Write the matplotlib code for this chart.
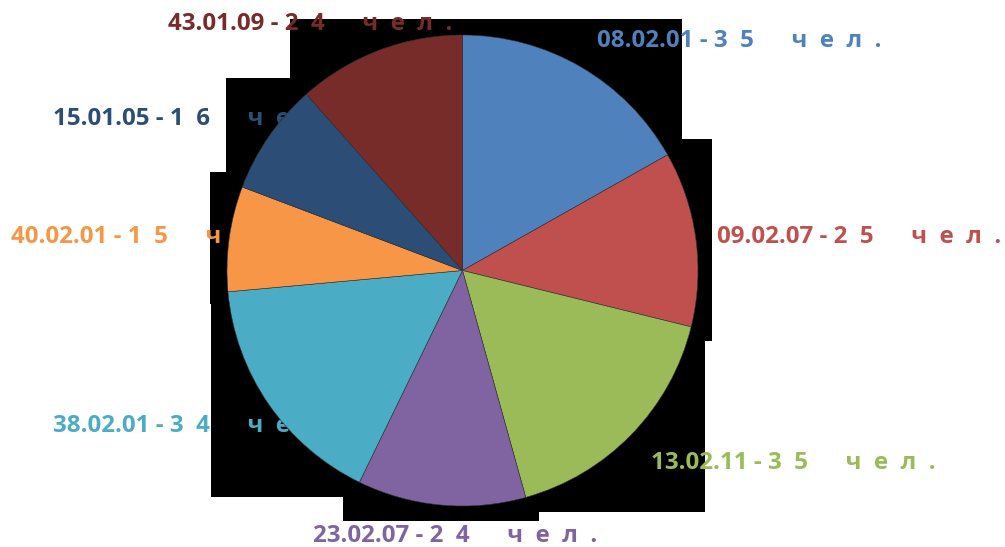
import numpy as np
import matplotlib.pyplot as plt
from matplotlib.patches import Polygon

codes = ['08.02.01', '09.02.07', '13.02.11', '23.02.07', '38.02.01', '40.02.01', '15.01.05', '43.01.09']
people = [35, 25, 35, 24, 34, 15, 16, 24]
colors = ['#4F81BD', '#C0504D', '#9BBB59', '#8064A2', '#4BACC6', '#F79646', '#2C4D75', '#772C2A']

# label anchor (left edge, vertical centre) in picture pixels
label_pos = [(597, 41), (717, 237), (651, 463), (313, 536), (53, 426), (11, 237), (53, 119), (168, 24)]

W, H = 1005, 547
cx, cy, r = 462.5, 270.5, 235.5


def px(x, y):
    return (x - cx) / r, (cy - y) / r


fig = plt.figure(figsize=(W / 100, H / 100), dpi=100)
ax = fig.add_axes([0, 0, 1, 1])
ax.axis('off')

# black backdrop left behind by the original rendering
outline = [(290, 19), (682, 19), (682, 139), (712, 139), (712, 341), (705, 341), (705, 512),
           (539, 512), (539, 521), (343, 521), (343, 497), (211, 497), (211, 304), (210, 304),
           (210, 172), (226, 172), (226, 78), (290, 78)]
ax.add_patch(Polygon([px(x, y) for x, y in outline], closed=True, facecolor='black',
                     edgecolor='none', zorder=0))

for code, n, col, (lx, ly) in zip(codes, people, colors, label_pos):
    s = str(n)
    txt = code + ' - ' + s[0] + '  ' + s[1] + '      ч  е  л  .'
    x, y = px(lx, ly)
    ax.text(x, y, txt, color=col, fontsize=17.4, fontweight='bold', family='Open Sans',
            ha='left', va='center', zorder=1)

wedges, _ = ax.pie(people, colors=colors, startangle=90, counterclock=False, radius=1,
                   frame=False, wedgeprops=dict(edgecolor='#333333', linewidth=0.4))
for w in wedges:
    w.set_zorder(2)
ax.set_xlim(px(0, 0)[0], px(W, 0)[0])
ax.set_ylim(px(0, H)[1], px(0, 0)[1])
ax.set_aspect('auto')

fig.savefig('out.png', dpi=100, facecolor='white')
